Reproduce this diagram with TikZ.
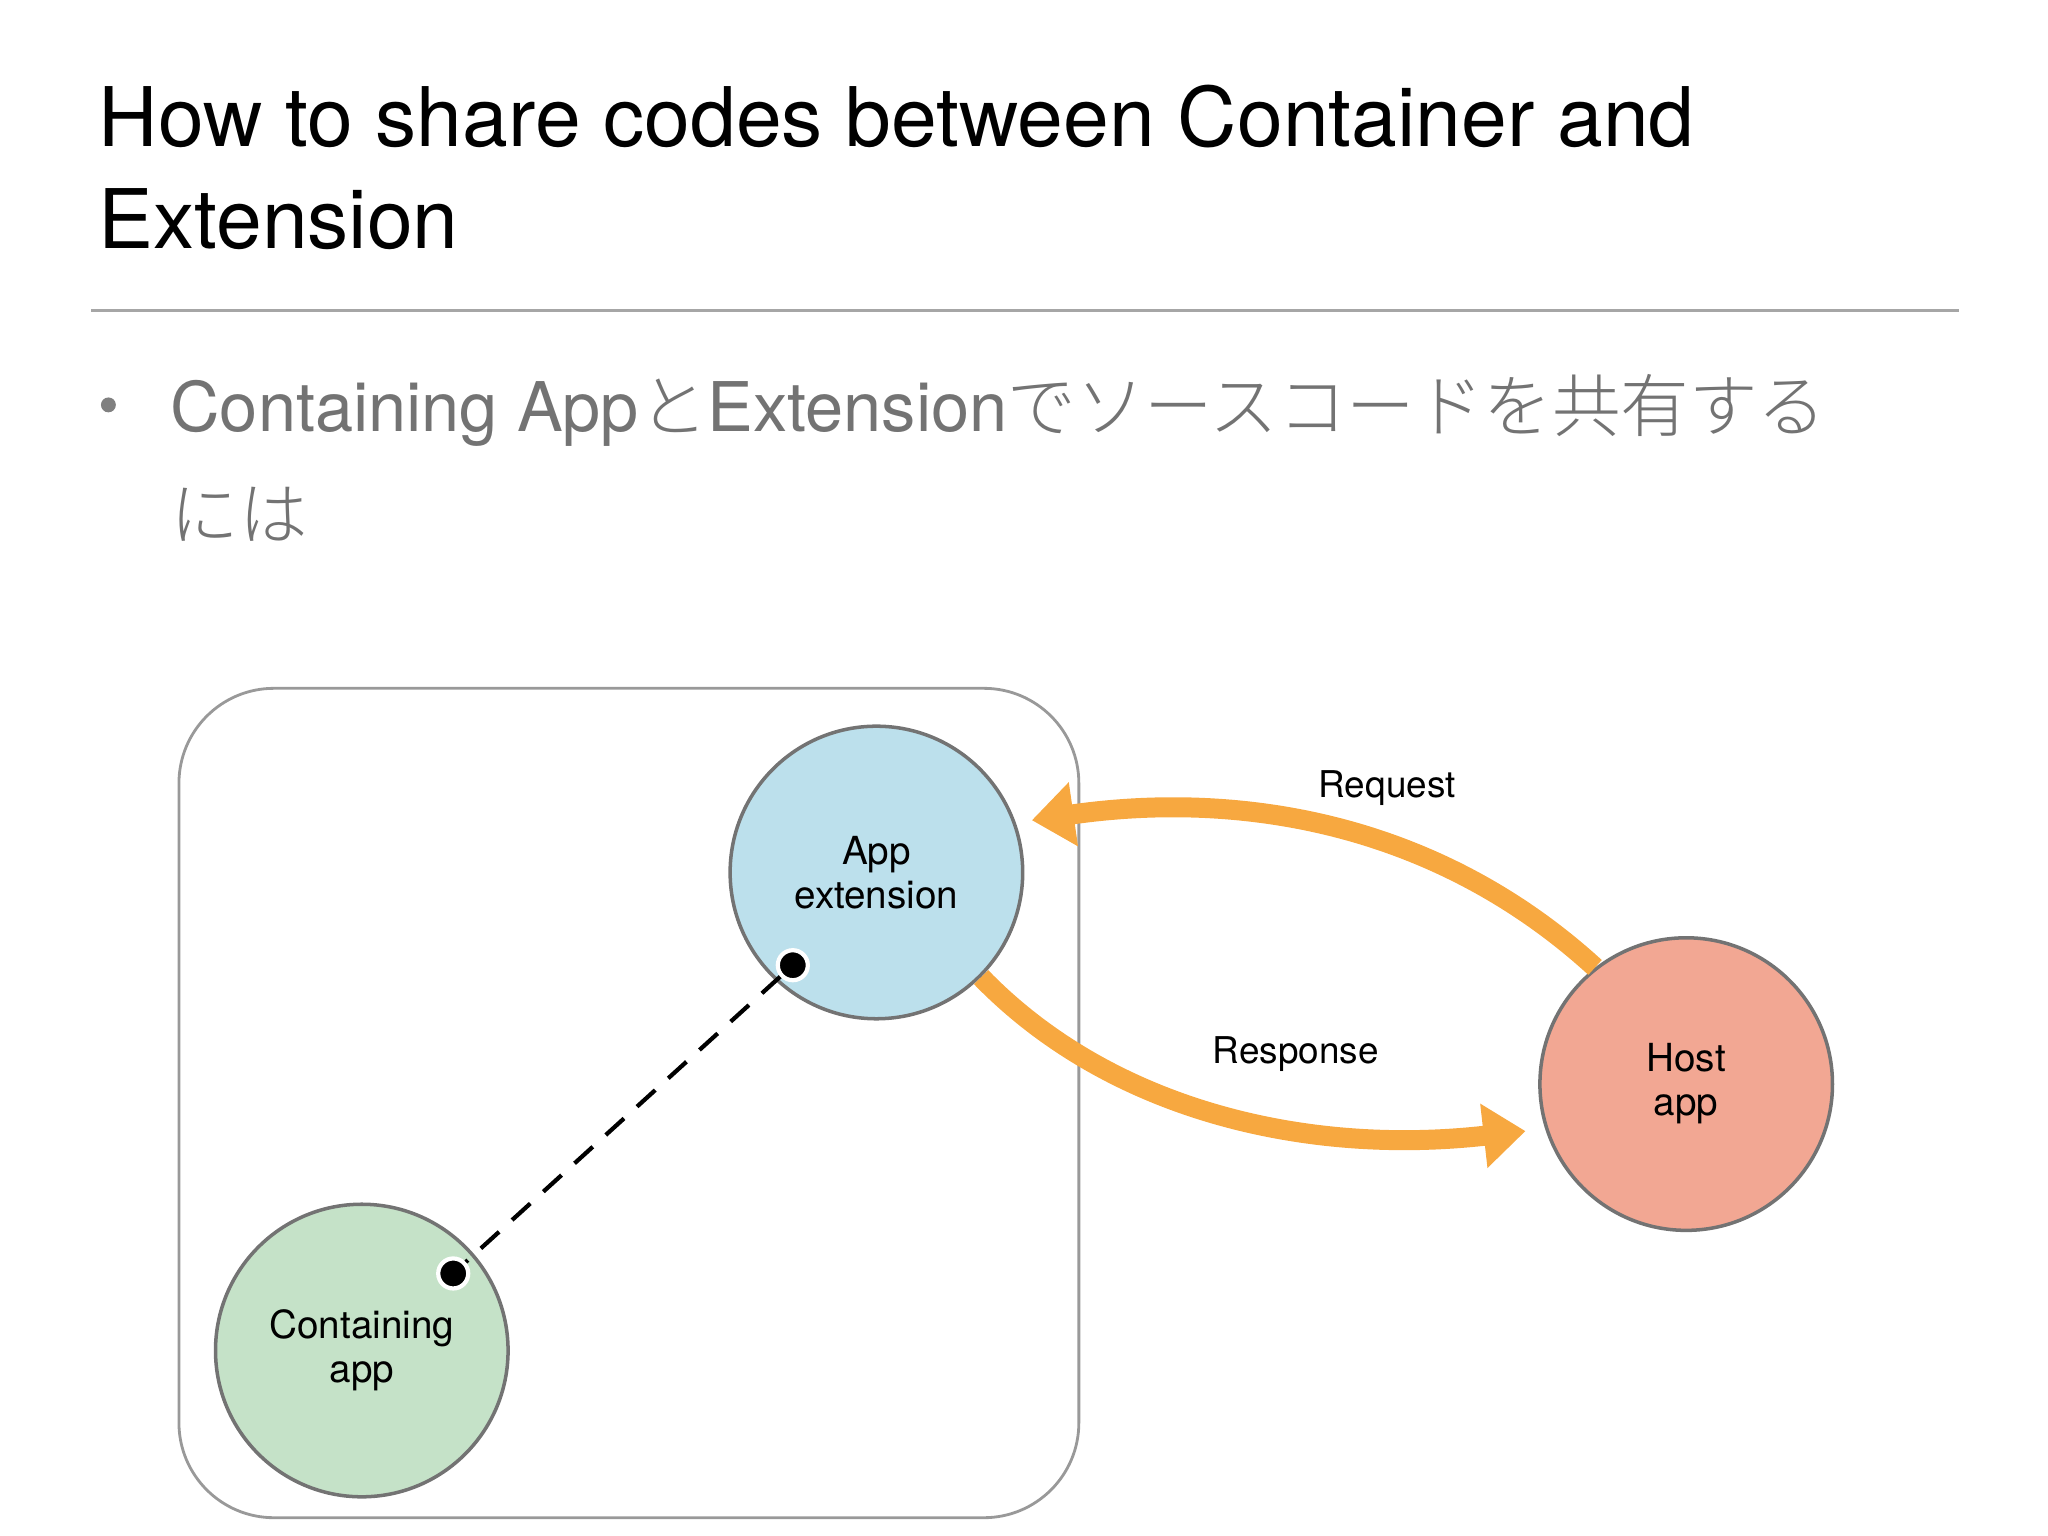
\documentclass[tikz,border=0pt]{standalone}
\usepackage{fontspec}
\setmainfont{TeX Gyre Heros}
\newfontfamily\cjk{Noto Sans CJK JP Light}
\usetikzlibrary{arrows.meta}
\definecolor{orng}{HTML}{F7A840}
\begin{document}
\begin{tikzpicture}[x=0.01306cm,y=-0.01306cm,
  app/.style={circle,draw=gray!90!black,line width=1pt,minimum size=224*0.01306cm,inner sep=0pt,align=center,font=\fontsize{11}{12.5}\selectfont},
  dot/.style={circle,fill=black,draw=white,line width=1.2pt,minimum size=0.3cm,inner sep=0pt},
  flow/.style={orng,line width=0.2cm,-{Triangle[length=0.42cm,width=0.62cm]}},
  lbl/.style={font=\fontsize{10.5}{12}\selectfont}]
\useasboundingbox (0,0) rectangle (1568,1176);
\node[anchor=base west,inner sep=0,font=\fontsize{23.4}{27}\selectfont] (t1) at (75,112) {How to share codes between Container and};
\node[anchor=base west,inner sep=0,font=\fontsize{23.4}{27}\selectfont] (t2) at (75,190) {Extension};
\draw[gray!70,line width=0.8pt] (70,238) -- (1500,238);
\node[circle,fill=gray,inner sep=1.5pt] (b) at (83,310) {};
\node[anchor=base west,inner sep=0,text=gray!90!black,font=\fontsize{19.5}{23}\selectfont] (s1) at (130,330) {Containing App{\cjk と}Extension{\cjk でソースコードを共有する}};
\node[anchor=base west,inner sep=0,text=gray!90!black,font=\fontsize{19.5}{23}\cjk\selectfont] (s2) at (130,413) {には};
\draw[gray!80,line width=0.8pt,rounded corners=0.95cm] (137,527) rectangle (826,1162);
\node[app,fill={rgb,255:red,188;green,224;blue,236}] (ext) at (671,668) {App\\extension};
\node[app,fill={rgb,255:red,242;green,167;blue,147}] (host) at (1291,830) {Host\\app};
\node[app,fill={rgb,255:red,197;green,226;blue,200}] (cont) at (277,1034) {Containing\\app};
\node[dot] (d1) at (607,739) {};
\node[dot] (d2) at (347,975) {};
\draw[dashed,line width=1.2pt,dash pattern=on 7pt off 5pt] (d1) -- (d2);
\coordinate (rq) at (790,628);
\coordinate (rs) at (1168,866);
\draw[flow] (host.128) .. controls (1100,630) and (950,605) .. (rq);
\draw[flow] (ext.-45) .. controls (850,850) and (1000,885) .. (rs);
\node[lbl] (lq) at (1062,603) {Request};
\node[lbl] (lr) at (992,807) {Response};
\end{tikzpicture}
\end{document}
